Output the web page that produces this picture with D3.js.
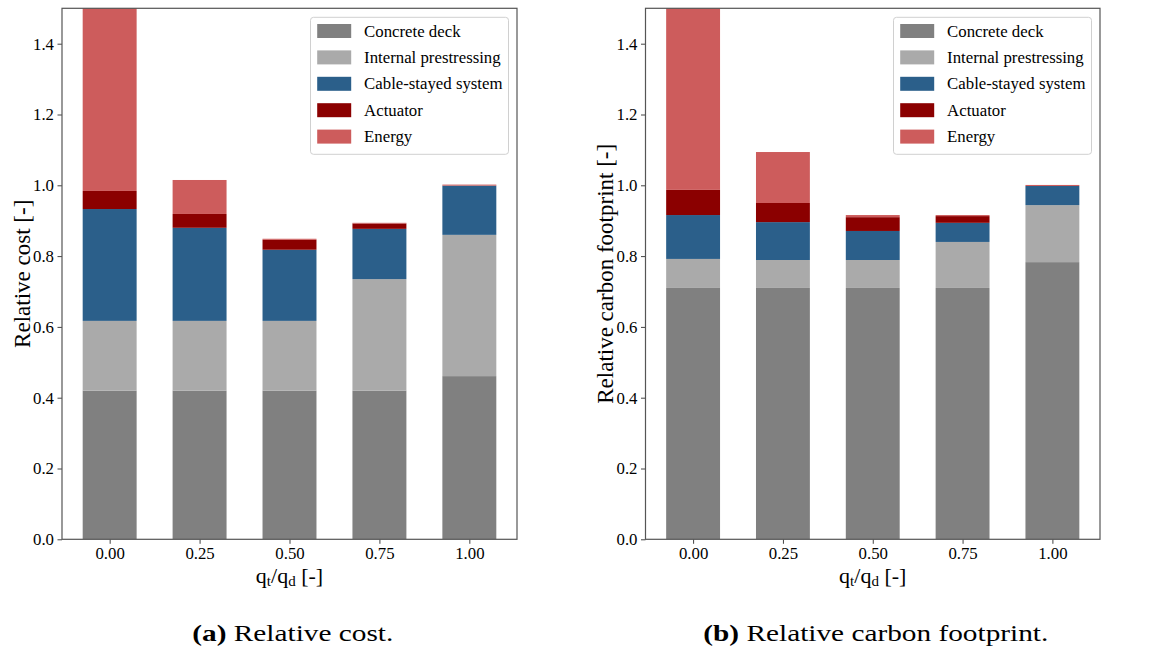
<!DOCTYPE html>
<html><head><meta charset="utf-8">
<script src="https://cdn.jsdelivr.net/npm/d3@7"></script>
</head>
<body style="margin:0;background:#fff">
<svg id="chart" width="1161" height="653"></svg>
<script>
// ---- data ----
const ratios = [0.00, 0.25, 0.50, 0.75, 1.00];
const tickLabels = ["0.00", "0.25", "0.50", "0.75", "1.00"];
const yTicks = [0.0, 0.2, 0.4, 0.6, 0.8, 1.0, 1.2, 1.4];
const components = ["Concrete deck", "Internal prestressing", "Cable-stayed system", "Actuator", "Energy"];
const colors = ["#808080", "#aaaaaa", "#2b5f8a", "#8b0000", "#cd5c5c"];

// Relative cost
const costConcrete = [0.420, 0.420, 0.420, 0.420, 0.461];
const costPrestress = [0.197, 0.197, 0.197, 0.315, 0.399];
const costCable = [0.316, 0.263, 0.201, 0.142, 0.139];
const costActuator = [0.051, 0.039, 0.028, 0.015, 0.000];
const costEnergy = [0.620, 0.096, 0.003, 0.002, 0.003];

// Relative carbon footprint
const co2Concrete = [0.710, 0.710, 0.710, 0.710, 0.783];
const co2Prestress = [0.082, 0.079, 0.079, 0.130, 0.161];
const co2Cable = [0.124, 0.107, 0.082, 0.054, 0.054];
const co2Actuator = [0.071, 0.054, 0.039, 0.019, 0.000];
const co2Energy = [0.600, 0.144, 0.006, 0.003, 0.003];

const FONT = "Liberation Serif";

const panels = [
  { left: 62, right: 517, ylabel: "Relative cost [-]", ylabelX: 22,
    series: [costConcrete, costPrestress, costCable, costActuator, costEnergy],
    capLetter: "(a)", capText: " Relative cost.", capX: 292.8, capW: 201 },
  { left: 645.5, right: 1100, ylabel: "Relative carbon footprint [-]", ylabelX: 605,
    series: [co2Concrete, co2Prestress, co2Cable, co2Actuator, co2Energy],
    capLetter: "(b)", capText: " Relative carbon footprint.", capX: 875.8, capW: 345 }
];

const yTop = 8.3, yBottom = 539.3;
const barW = 0.15;
const svg = d3.select("#chart");

panels.forEach((p, pi) => {
  const x = d3.scaleLinear().domain([-0.1325, 1.1325]).range([p.left, p.right]);
  const y = d3.scaleLinear().domain([0, 1.5]).range([yBottom, yTop]);

  const rows = ratios.map((r, i) => {
    const o = { r };
    components.forEach((c, k) => o[c] = p.series[k][i]);
    return o;
  });
  const stacked = d3.stack().keys(components)(rows);

  const clipId = "clip" + pi;
  svg.append("clipPath").attr("id", clipId).append("rect")
    .attr("x", p.left).attr("y", yTop).attr("width", p.right - p.left).attr("height", yBottom - yTop);

  const g = svg.append("g").attr("clip-path", `url(#${clipId})`);
  stacked.forEach((layer, k) => {
    g.selectAll(null).data(layer).enter().append("rect")
      .attr("x", d => x(d.data.r - barW / 2))
      .attr("width", d => x(d.data.r + barW / 2) - x(d.data.r - barW / 2))
      .attr("y", d => y(d[1]))
      .attr("height", d => Math.max(0, y(d[0]) - y(d[1])))
      .attr("fill", colors[k]);
  });

  // axes
  const xAxis = d3.axisBottom(x).tickValues(ratios).tickFormat((d, i) => tickLabels[i]).tickSizeOuter(0).tickSize(4.5).tickPadding(3.5);
  const yAxis = d3.axisLeft(y).tickValues(yTicks).tickFormat(d3.format(".1f")).tickSizeOuter(0).tickSize(4.5).tickPadding(3.5);

  const gx = svg.append("g").attr("transform", `translate(0,${yBottom})`).call(xAxis);
  const gy = svg.append("g").attr("transform", `translate(${p.left},0)`).call(yAxis);
  [gx, gy].forEach(ax => {
    ax.attr("font-family", FONT).attr("font-size", 16.8);
    ax.select(".domain").remove();
    ax.selectAll(".tick line").attr("stroke", "#444").attr("stroke-width", 1);
    ax.selectAll(".tick text").attr("font-family", FONT).attr("font-size", 16.8).attr("fill", "#000");
  });

  // frame
  svg.append("rect").attr("x", p.left).attr("y", yTop).attr("width", p.right - p.left).attr("height", yBottom - yTop)
    .attr("fill", "none").attr("stroke", "#555").attr("stroke-width", 1.2);

  // axis labels
  const xl = svg.append("text").attr("x", (p.left + p.right) / 2).attr("y", 583)
    .attr("text-anchor", "middle").attr("font-family", FONT).attr("font-size", 22);
  xl.append("tspan").text("q");
  xl.append("tspan").attr("font-size", 15).attr("dy", 3).text("t");
  xl.append("tspan").attr("dy", -3).text("/q");
  xl.append("tspan").attr("font-size", 15).attr("dy", 3).text("d");
  xl.append("tspan").attr("dy", -3).text(" [-]");

  svg.append("text").attr("transform", `translate(${p.ylabelX},${(yTop + yBottom) / 2}) rotate(-90)`)
    .attr("text-anchor", "middle").attr("dominant-baseline", "central")
    .attr("font-family", FONT).attr("font-size", 23).text(p.ylabel);

  // legend
  const lx = p.right - 206.5, ly = 17.3;
  const lg = svg.append("g");
  lg.append("rect").attr("x", lx).attr("y", ly).attr("width", 198).attr("height", 137)
    .attr("rx", 3).attr("fill", "#fff").attr("fill-opacity", 0.8).attr("stroke", "#d0d0d0").attr("stroke-width", 1);
  components.forEach((c, k) => {
    const cy = 31 + k * 26.4;
    lg.append("rect").attr("x", lx + 6.7).attr("y", cy - 7).attr("width", 34).attr("height", 14).attr("fill", colors[k]);
    lg.append("text").attr("x", lx + 53.6).attr("y", cy).attr("dominant-baseline", "central")
      .attr("font-family", FONT).attr("font-size", 16.8).text(c);
  });

  // caption
  const cap = svg.append("text").attr("x", p.capX - p.capW / 2).attr("y", 641)
    .attr("font-family", FONT).attr("font-size", 23)
    .attr("textLength", p.capW).attr("lengthAdjust", "spacingAndGlyphs");
  cap.append("tspan").attr("font-weight", "bold").text(p.capLetter);
  cap.append("tspan").text(p.capText);
});
</script>
</body>
</html>
